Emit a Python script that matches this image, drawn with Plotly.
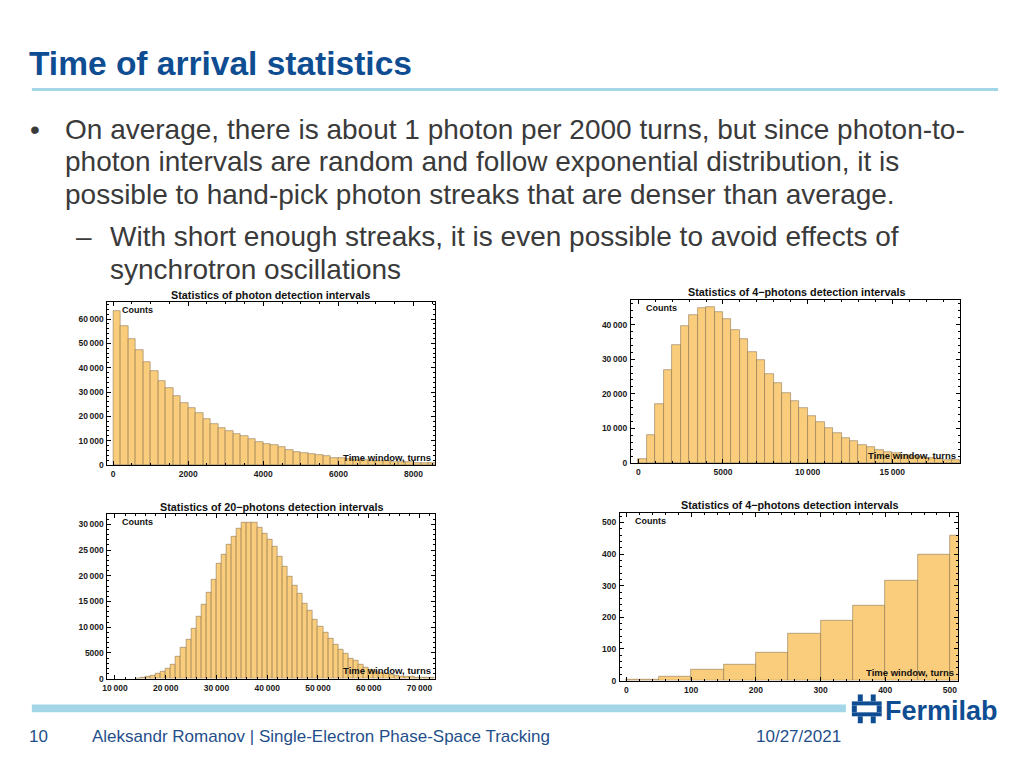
import numpy as np
import plotly.graph_objects as go

# ---------------- data ----------------
# Chart 1: single-photon intervals, 200-turn bins starting at 0
c1_bin_width = 200
c1_bin_start = list(range(0, 8600, 200))
c1_counts = [63400, 57200, 51900, 47200, 42300, 38500, 34600, 31600, 28400, 25500,
             23400, 21400, 18900, 17000, 15300, 14100, 12700, 11800, 10500, 9500,
             8600, 8000, 7200, 6200, 5300, 4900, 4500, 3900, 3500, 3000,
             2700, 2400, 2200, 2000, 1800, 1600, 1450, 1300, 1200, 1100,
             1000, 900, 820]

# Chart 2: 4-photon intervals, 500-turn bins
c2_bin_width = 500
c2_bin_start = list(range(0, 19000, 500))
c2_counts = [1200, 8100, 17000, 26800, 34200, 39700, 42900, 44700, 45100, 43500,
             41600, 38500, 35700, 32200, 29700, 25800, 23200, 20100, 18000, 15800,
             13600, 11800, 10100, 8600, 7300, 6200, 5200, 4500, 3800, 3300,
             2800, 2400, 2000, 1700, 1400, 1150, 950, 800]

# Chart 3: 20-photon intervals, 1000-turn bins
c3_bin_width = 1000
c3_bin_start = list(range(14000, 73000, 1000))
c3_counts = [80, 200, 400, 600, 1000, 1400, 2000, 2800, 4200, 6100,
             7500, 9800, 12100, 14400, 16800, 19300, 22400, 24100, 26000, 27700,
             29200, 30300, 30400, 30300, 29400, 28300, 27000, 25600, 23800, 21700,
             19900, 18000, 16600, 14500, 13200, 11500, 10100, 9000, 7800, 6600,
             5700, 4800, 3900, 3400, 2700, 2200, 1800, 1400, 1200, 900,
             700, 580, 450, 380, 300, 250, 200, 150, 120]

# Chart 4: 4-photon intervals (short windows), 50-turn bins
c4_bin_width = 50
c4_bin_start = list(range(0, 550, 50))
c4_counts = [2, 11, 35, 50, 88, 147, 189, 238, 317, 398, 458]

chart_titles = ["Statistics of photon detection intervals",
                "Statistics of 4\u2212photons detection intervals",
                "Statistics of 20\u2212photons detection intervals",
                "Statistics of 4\u2212photons detection intervals"]

c1_xticks = [0, 2000, 4000, 6000, 8000]
c1_xtext = ["0", "2000", "4000", "6000", "8000"]
c1_yticks = [0, 10000, 20000, 30000, 40000, 50000, 60000]
c1_ytext = ["0", "10\u2009000", "20\u2009000", "30\u2009000", "40\u2009000", "50\u2009000", "60\u2009000"]

c2_xticks = [0, 5000, 10000, 15000]
c2_xtext = ["0", "5000", "10\u2009000", "15\u2009000"]
c2_yticks = [0, 10000, 20000, 30000, 40000]
c2_ytext = ["0", "10\u2009000", "20\u2009000", "30\u2009000", "40\u2009000"]

c3_xticks = [10000, 20000, 30000, 40000, 50000, 60000, 70000]
c3_xtext = ["10\u2009000", "20\u2009000", "30\u2009000", "40\u2009000", "50\u2009000", "60\u2009000", "70\u2009000"]
c3_yticks = [0, 5000, 10000, 15000, 20000, 25000, 30000]
c3_ytext = ["0", "5000", "10\u2009000", "15\u2009000", "20\u2009000", "25\u2009000", "30\u2009000"]

c4_xticks = [0, 100, 200, 300, 400, 500]
c4_xtext = ["0", "100", "200", "300", "400", "500"]
c4_yticks = [0, 100, 200, 300, 400, 500]
c4_ytext = ["0", "100", "200", "300", "400", "500"]

# ---------------- layout helpers ----------------
W, H = 1024, 768


def px(x):
    return x / W


def py(y):
    return 1 - y / H


BAR_FILL = "#F9CD7C"
BAR_EDGE = "rgba(130,105,70,0.75)"
TICK_FONT = dict(family="Liberation Sans, Arial", size=8.5, color="#1a1a1a", weight="bold")

charts = [
    dict(bins=c1_bin_start, w=c1_bin_width, y=c1_counts, frame=(103, 304, 432, 468),
         xr=[-150, 8570], yr=[0, 67000], xt=(c1_xticks, c1_xtext), yt=(c1_yticks, c1_ytext),
         xminor=500, yminor=2000, title_xy=(267, 297)),
    dict(bins=c2_bin_start, w=c2_bin_width, y=c2_counts, frame=(629, 302, 960, 466),
         xr=[-435, 19020], yr=[0, 47100], xt=(c2_xticks, c2_xtext), yt=(c2_yticks, c2_ytext),
         xminor=1000, yminor=2000, title_xy=(795, 294)),
    dict(bins=c3_bin_start, w=c3_bin_width, y=c3_counts, frame=(103, 517, 432, 683),
         xr=[8530, 73040], yr=[0, 32100], xt=(c3_xticks, c3_xtext), yt=(c3_yticks, c3_ytext),
         xminor=2000, yminor=1000, title_xy=(268, 510)),
    dict(bins=c4_bin_start, w=c4_bin_width, y=c4_counts, frame=(618, 516, 958, 685),
         xr=[-10, 513], yr=[0, 531], xt=(c4_xticks, c4_xtext), yt=(c4_yticks, c4_ytext),
         xminor=20, yminor=20, title_xy=(788, 508)),
]

fig = go.Figure()
annotations = []
shapes = []

for i, c in enumerate(charts, start=1):
    xa = "x" if i == 1 else f"x{i}"
    ya = "y" if i == 1 else f"y{i}"
    centers = np.array(c["bins"]) + c["w"] / 2
    fig.add_trace(go.Bar(x=centers, y=c["y"], width=c["w"], xaxis=xa, yaxis=ya,
                         marker=dict(color=BAR_FILL, line=dict(color=BAR_EDGE, width=0.7)),
                         showlegend=False, hoverinfo="x+y"))
    x0, y0, x1, y1 = c["frame"]
    common = dict(showline=True, linecolor="black", linewidth=1, mirror="allticks",
                  ticks="inside", ticklen=4, tickwidth=1, tickcolor="black",
                  showgrid=False, zeroline=False, tickfont=TICK_FONT, fixedrange=True)
    xkey = "xaxis" if i == 1 else f"xaxis{i}"
    ykey = "yaxis" if i == 1 else f"yaxis{i}"
    fig.update_layout(**{
        xkey: dict(domain=[px(x0), px(x1)], range=c["xr"], anchor=ya,
                   tickmode="array", tickvals=c["xt"][0], ticktext=c["xt"][1],
                   minor=dict(ticks="inside", ticklen=2, dtick=c["xminor"], tick0=0, tickcolor="black"),
                   ticklabelstandoff=1, **common),
        ykey: dict(domain=[py(y1), py(y0)], range=c["yr"], anchor=xa,
                   tickmode="array", tickvals=c["yt"][0], ticktext=c["yt"][1],
                   minor=dict(ticks="inside", ticklen=2, dtick=c["yminor"], tick0=0, tickcolor="black"),
                   ticklabelstandoff=1, **common),
    })
    annotations.append(dict(text="<b>" + chart_titles[i - 1] + "</b>", x=px(c["title_xy"][0]),
                            y=py(c["title_xy"][1]), xref="paper", yref="paper",
                            xanchor="center", yanchor="middle", showarrow=False,
                            font=dict(family="Liberation Sans, Arial", size=10.8, color="#111")))
    annotations.append(dict(text="<b>Counts</b>", x=px(x0 + 13), y=py(y0 + 8), xref="paper", yref="paper",
                            xanchor="left", yanchor="middle", showarrow=False,
                            font=dict(family="Liberation Sans, Arial", size=9, color="#111")))
    annotations.append(dict(text="<b>Time window, turns</b>", x=px(x1 - 2), y=py(y1 - 8), xref="paper", yref="paper",
                            xanchor="right", yanchor="middle", showarrow=False,
                            font=dict(family="Liberation Sans, Arial", size=9.5, color="#111")))

# ---------------- slide decorations ----------------
BLUE = "#0F4D92"
LIGHT = "#A3D7E8"
BODY = "#3A3A3A"
SANS = "Liberation Sans, Arial"

annotations.append(dict(text="<b>Time of arrival statistics</b>", x=px(22), y=py(64), xref="paper", yref="paper",
                        xanchor="left", yanchor="middle", showarrow=False,
                        font=dict(family=SANS, size=33.5, color=BLUE)))
shapes.append(dict(type="line", xref="paper", yref="paper", x0=px(27), x1=px(998), y0=py(90), y1=py(90),
                   line=dict(color=LIGHT, width=3)))

body_lines = [
    (23, 130, "\u2022"),
    (58, 130, "On average, there is about 1 photon per 2000 turns, but since photon-to-"),
    (58, 163, "photon intervals are random and follow exponential distribution, it is"),
    (58, 196, "possible to hand-pick photon streaks that are denser than average."),
    (69, 238, "\u2013"),
    (104, 238, "With short enough streaks, it is even possible to avoid effects of"),
    (104, 271, "synchrotron oscillations"),
]
for bx, by, t in body_lines:
    annotations.append(dict(text=t, x=px(bx), y=py(by), xref="paper", yref="paper",
                            xanchor="left", yanchor="middle", showarrow=False,
                            font=dict(family=SANS, size=28, color=BODY)))

# footer
shapes.append(dict(type="rect", xref="paper", yref="paper", x0=px(27), x1=px(845), y0=py(717), y1=py(709),
                   fillcolor=LIGHT, line=dict(width=0)))
footer = [(22, 741, "10"), (85, 741, "Aleksandr Romanov | Single-Electron Phase-Space Tracking"),
          (753, 741, "10/27/2021")]
for fx, fy, t in footer:
    annotations.append(dict(text=t, x=px(fx), y=py(fy), xref="paper", yref="paper",
                            xanchor="left", yanchor="middle", showarrow=False,
                            font=dict(family=SANS, size=17, color="#1F4F8A")))
annotations.append(dict(text="<b>Fermilab</b>", x=px(882), y=py(716), xref="paper", yref="paper",
                        xanchor="left", yanchor="middle", showarrow=False,
                        font=dict(family=SANS, size=27, color=BLUE)))

# Fermilab logo mark (decorative blocks)
logo_rects = [(857, 699, 862, 706), (870, 699, 875, 706),
              (851, 706, 881, 710), (851, 717, 881, 721),
              (851, 710, 856, 717), (876, 710, 881, 717),
              (857, 721, 862, 728), (870, 721, 875, 728)]
for (ax0, ay0, ax1, ay1) in logo_rects:
    shapes.append(dict(type="rect", xref="paper", yref="paper", x0=px(ax0), x1=px(ax1),
                       y0=py(ay1), y1=py(ay0), fillcolor=BLUE, line=dict(width=0)))

fig.update_layout(width=W, height=H, margin=dict(l=0, r=0, t=0, b=0), autosize=False,
                  paper_bgcolor="white", plot_bgcolor="white", bargap=0,
                  annotations=annotations, shapes=shapes, showlegend=False)

fig.write_html("out.html", config={"displayModeBar": False},
               post_script="document.body.style.margin='0';")
